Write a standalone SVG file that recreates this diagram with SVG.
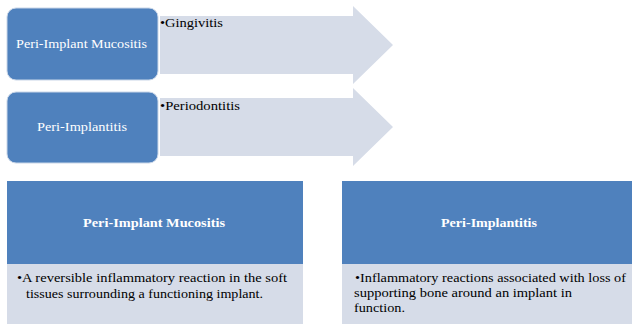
<svg xmlns="http://www.w3.org/2000/svg" width="632" height="324" viewBox="0 0 632 324">
<style>
.arrow{fill:#D6DCE8;}
.node{fill:#4F81BD;stroke:#C9D6E8;stroke-width:1;}
.hdr{fill:#4F81BD;}
.body{fill:#D6DCE8;}
.w{fill:#FFFFFF;}
.wb{fill:#FFFFFF;font-weight:bold;}
.k{fill:#000000;}
</style>
<rect width="632" height="324" fill="#FFFFFF"/>
<g font-family="Liberation Serif, Times New Roman, serif" font-size="13.5">
<g id="connectors">
<polygon class="arrow" points="160,16 353,16 353,6 393,45 353,84 353,74 160,74"/>
<polygon class="arrow" points="160,98 353,98 353,88 393,127 353,166 353,156 160,156"/>
</g>
<g id="node-mucositis">
<rect class="node" x="7" y="8" width="151" height="72" rx="9"/>
<text class="w" x="16" y="48" textLength="131" lengthAdjust="spacingAndGlyphs">Peri-Implant Mucositis</text>
</g>
<g id="label-gingivitis">
<text class="k" x="160" y="27" textLength="63" lengthAdjust="spacingAndGlyphs">•Gingivitis</text>
</g>
<g id="node-implantitis">
<rect class="node" x="7" y="92" width="151" height="71" rx="9"/>
<text class="w" x="37" y="131" textLength="90" lengthAdjust="spacingAndGlyphs">Peri-Implantitis</text>
</g>
<g id="label-periodontitis">
<text class="k" x="160" y="110" textLength="80" lengthAdjust="spacingAndGlyphs">•Periodontitis</text>
</g>
<g id="card-mucositis">
<rect class="hdr" x="7" y="181" width="296" height="83"/>
<rect class="body" x="7" y="264" width="296" height="60"/>
<text class="wb" x="83" y="227" textLength="142" lengthAdjust="spacingAndGlyphs">Peri-Implant Mucositis</text>
<text class="k" x="17" y="282" textLength="270" lengthAdjust="spacingAndGlyphs">•A reversible inflammatory reaction in the soft</text>
<text class="k" x="26" y="298" textLength="237" lengthAdjust="spacingAndGlyphs">tissues surrounding a functioning implant.</text>
</g>
<g id="card-implantitis">
<rect class="hdr" x="342" y="181" width="292" height="83"/>
<rect class="body" x="342" y="264" width="292" height="60"/>
<text class="wb" x="441" y="227" textLength="96" lengthAdjust="spacingAndGlyphs">Peri-Implantitis</text>
<text class="k" x="355" y="282" textLength="271" lengthAdjust="spacingAndGlyphs">•Inflammatory reactions associated with loss of</text>
<text class="k" x="354" y="297" textLength="218" lengthAdjust="spacingAndGlyphs">supporting bone around an implant in</text>
<text class="k" x="354" y="312" textLength="51" lengthAdjust="spacingAndGlyphs">function.</text>
</g>
</g>
</svg>
